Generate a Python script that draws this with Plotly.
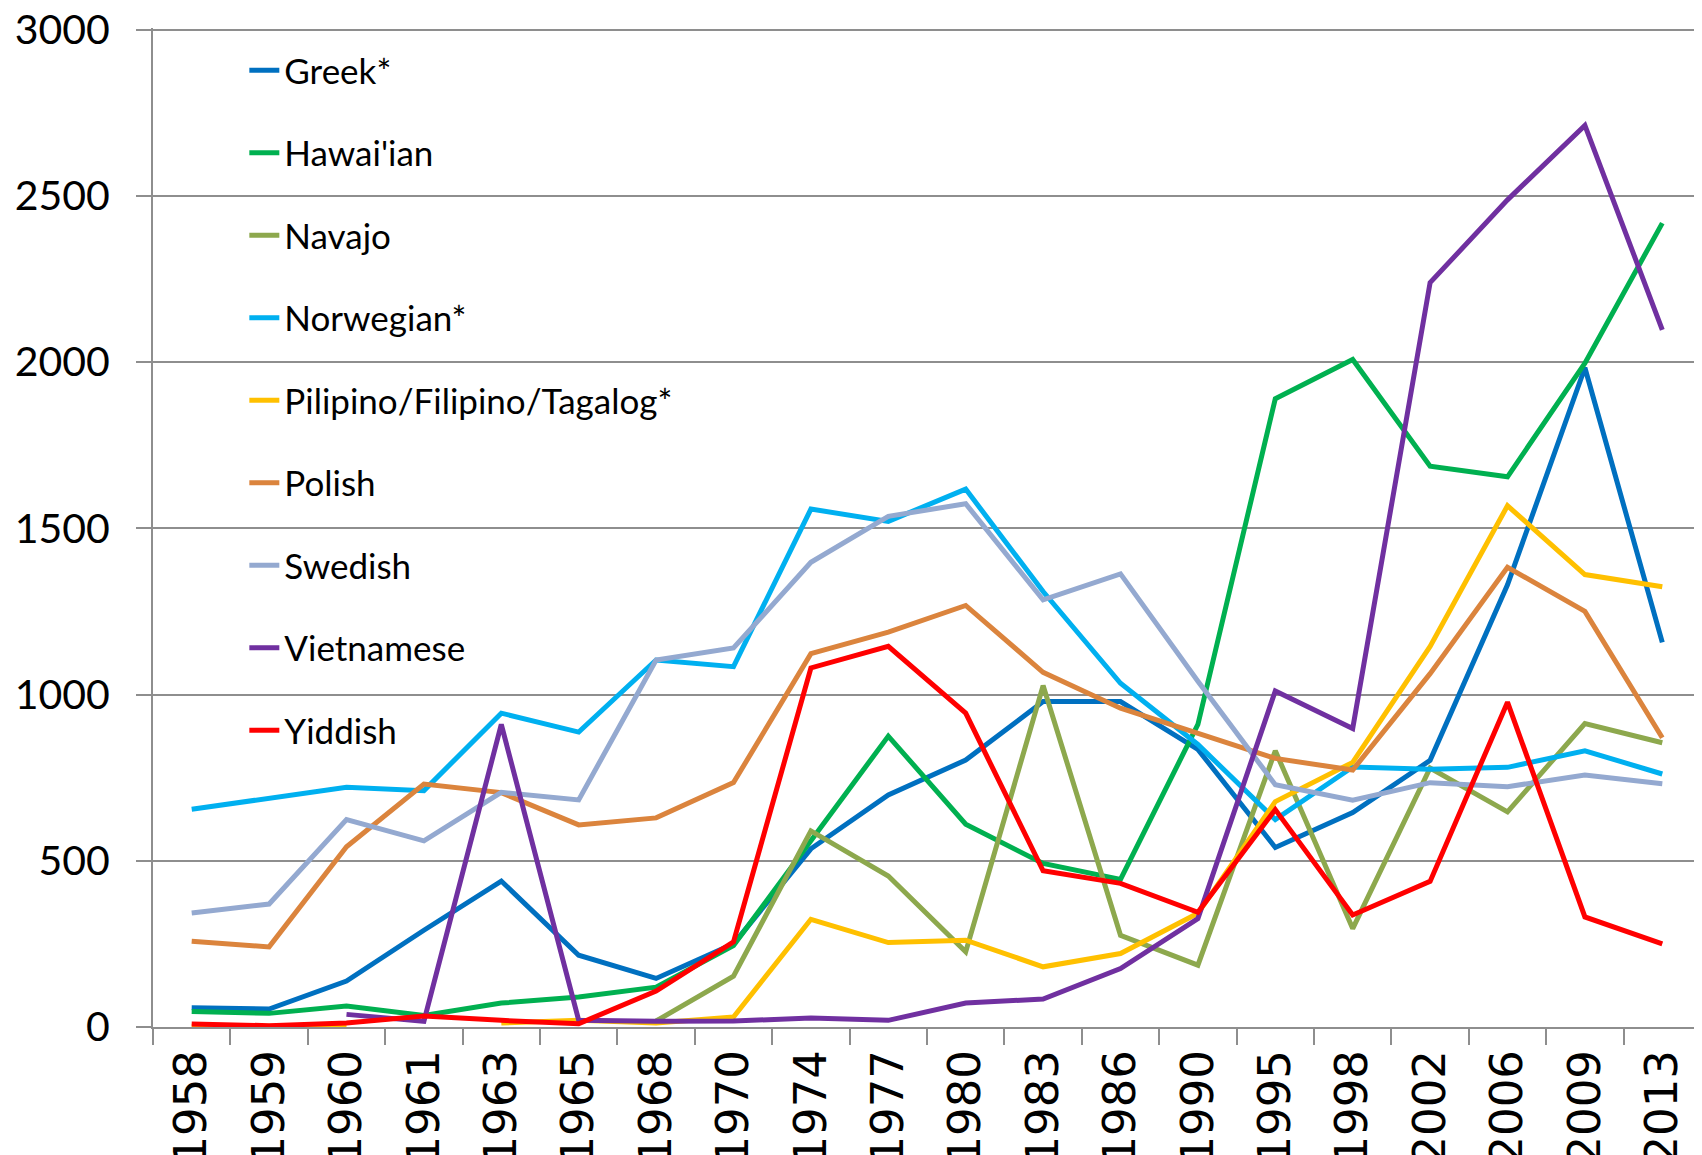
import plotly.graph_objects as go

# Years on the category axis
years = ['1958', '1959', '1960', '1961', '1963', '1965', '1968', '1970', '1974', '1977',
         '1980', '1983', '1986', '1990', '1995', '1998', '2002', '2006', '2009', '2013']

greek = [58, 54, 138, 291, 439, 216, 146, 250, 536, 698,
         803, 979, 979, 835, 540, 645, 802, 1330, 1983, 1157]
hawaiian = [47, 41, 63, 35, 72, 90, 120, 245, 560, 875,
            610, 492, 444, 910, 1890, 2008, 1687, 1655, 1997, 2418]
navajo = [None, None, None, None, None, None, 18, 153, 590, 454,
          226, 1027, 276, 186, 831, 296, 779, 647, 913, 855]
norwegian = [655, 688, 721, 711, 944, 887, 1104, 1084, 1558, 1521,
             1618, 1310, 1034, 850, 624, 782, 775, 781, 831, 761]
pilipino = [2, 2, 2, None, 12, 20, 12, 30, 324, 254,
            261, 181, 221, 342, 678, 796, 1145, 1568, 1361, 1324]
polish = [258, 241, 542, 731, 705, 608, 629, 735, 1123, 1188,
          1268, 1067, 959, 885, 808, 773, 1063, 1383, 1250, 870]
swedish = [343, 370, 624, 560, 706, 683, 1104, 1140, 1398, 1536,
           1574, 1285, 1363, 1040, 729, 682, 735, 723, 758, 732]
vietnamese = [None, None, 38, 17, 910, 20, 17, 18, 27, 20,
              72, 84, 176, 326, 1011, 898, 2239, 2488, 2712, 2097]
yiddish = [9, 4, 12, 33, 20, 10, 108, 256, 1080, 1145,
           944, 470, 432, 345, 654, 337, 438, 977, 331, 250]

series = [
    ("Greek*", greek, '#0070C0'),
    ("Hawai'ian", hawaiian, '#00B050'),
    ("Navajo", navajo, '#8DA84D'),
    ("Norwegian*", norwegian, '#00B0F0'),
    ("Pilipino/Filipino/Tagalog*", pilipino, '#FFC000'),
    ("Polish", polish, '#DB843D'),
    ("Swedish", swedish, '#94A9D0'),
    ("Vietnamese", vietnamese, '#7030A0'),
    ("Yiddish", yiddish, '#FF0000'),
]

fig = go.Figure()
for name, vals, color in series:
    fig.add_trace(go.Scatter(
        x=years, y=vals, name=name, mode='lines',
        line=dict(color=color, width=5),
        legendgroup=name, connectgaps=False,
    ))

grid = '#8E8E8E'

# page body has an 8px margin, so the figure is a bit smaller than the window
fig.update_layout(
    width=1694, height=1147,
    margin=dict(l=145, r=1, t=20, b=128),
    plot_bgcolor='white', paper_bgcolor='white',
    showlegend=True,
    legend=dict(
        x=0.059, y=0.987, xanchor='left', yanchor='top',
        bgcolor='rgba(0,0,0,0)',
        font=dict(family='Lato', size=35, color='black'),
        tracegroupgap=34,
    ),
    xaxis=dict(
        type='category', automargin=False,
        range=[-0.5, len(years) - 0.5],
        showgrid=False,
        showline=True, linecolor=grid, linewidth=2,
        ticks='outside', tickson='boundaries', ticklen=16,
        tickcolor=grid, tickwidth=2,
        tickangle=-90,
        tickfont=dict(family='DejaVu Sans', size=45, color='black'),
        ticklabelstandoff=3,
    ),
    yaxis=dict(
        range=[0, 3005], dtick=500, automargin=False,
        showgrid=True, gridcolor=grid, gridwidth=2,
        zeroline=False,
        showline=True, linecolor=grid, linewidth=2,
        ticks='outside', ticklen=15, tickcolor=grid, tickwidth=2,
        tickfont=dict(family='Lato', size=41, color='black'),
        ticklabelstandoff=18, ticklabeloverflow='allow',
    ),
)

fig.write_html("out.html")
